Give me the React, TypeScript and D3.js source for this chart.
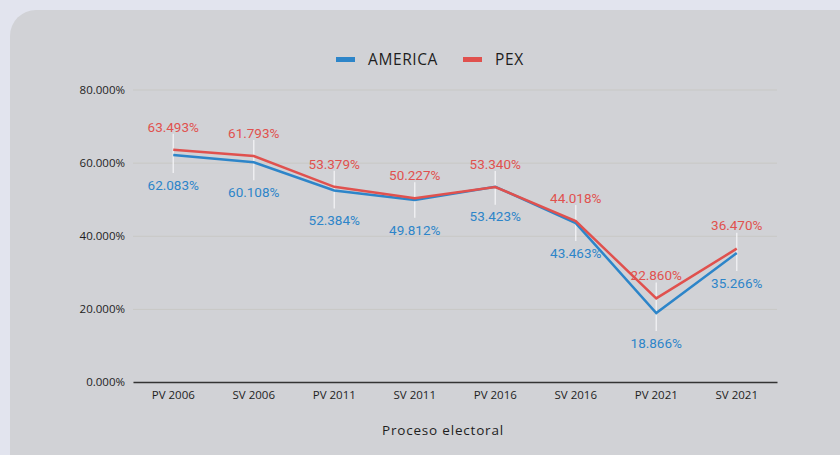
import { useEffect, useRef } from 'react';
import * as d3 from 'd3';

const categories = ['PV 2006', 'SV 2006', 'PV 2011', 'SV 2011', 'PV 2016', 'SV 2016', 'PV 2021', 'SV 2021'];
const america = [62.083, 60.108, 52.384, 49.812, 53.423, 43.463, 18.866, 35.266];
const pex = [63.493, 61.793, 53.379, 50.227, 53.34, 44.018, 22.86, 36.47];
const yTicks = [0, 20, 40, 60, 80];

const WIDTH = 840;
const HEIGHT = 455;
const PLOT = { left: 133, right: 777, top: 89.5, bottom: 382 };
const BLUE = '#2d85c9';
const RED = '#e0514e';
const LABEL_FONT = 'Roboto, sans-serif';
const AXIS_FONT = '"Open Sans", Lato, sans-serif';

export default function App() {
  const svgRef = useRef<SVGSVGElement>(null);

  useEffect(() => {
    if (!svgRef.current) return;
    const svg = d3.select(svgRef.current);
    svg.selectAll('*').remove();

    // page background + panel
    svg.append('rect').attr('width', WIDTH).attr('height', HEIGHT).attr('fill', '#e2e4ee');
    svg.append('rect')
      .attr('x', 10).attr('y', 10)
      .attr('width', WIDTH + 40).attr('height', HEIGHT + 40)
      .attr('rx', 26)
      .attr('fill', '#d1d2d6');

    const x = d3.scaleBand<string>().domain(categories).range([PLOT.left, PLOT.right]);
    const y = d3.scaleLinear().domain([0, 80]).range([PLOT.bottom, PLOT.top]);
    const cx = (c: string) => (x(c) ?? 0) + x.bandwidth() / 2;

    // gridlines + y labels
    const yAxis = d3.axisLeft(y)
      .tickValues(yTicks)
      .tickSize(-(PLOT.right - PLOT.left))
      .tickPadding(8)
      .tickFormat((d: d3.NumberValue) => `${Number(d).toFixed(3)}%`);
    const gy = svg.append('g').attr('transform', `translate(${PLOT.left},0)`).call(yAxis);
    gy.select('.domain').remove();
    gy.selectAll('.tick line').attr('stroke', '#c8c8c5').attr('stroke-width', 1);
    gy.selectAll('.tick text')
      .attr('fill', '#1e1e1e')
      .style('font-family', AXIS_FONT)
      .style('font-size', '11.5px');

    // x axis
    const xAxis = d3.axisBottom(x).tickSize(0).tickPadding(9);
    const gx = svg.append('g').attr('transform', `translate(0,${PLOT.bottom})`).call(xAxis);
    gx.select('.domain').attr('stroke', '#333').attr('stroke-width', 1.5);
    gx.selectAll('.tick text')
      .attr('fill', '#1e1e1e')
      .style('font-family', AXIS_FONT)
      .style('font-size', '11.5px');

    svg.append('text')
      .attr('x', 443).attr('y', 435)
      .attr('text-anchor', 'middle')
      .attr('fill', '#1e1e1e')
      .style('font-family', AXIS_FONT)
      .style('font-size', '13.5px')
      .style('letter-spacing', '0.8px')
      .text('Proceso electoral');

    // leader lines
    const leaders = svg.append('g').attr('stroke', '#f4f4f6').attr('stroke-width', 1.5).attr('opacity', 0.85);
    categories.forEach((c, i) => {
      leaders.append('line')
        .attr('x1', cx(c)).attr('x2', cx(c))
        .attr('y1', y(pex[i]) - 16).attr('y2', y(america[i]) + 18);
    });

    const line = d3.line<number>()
      .x((_d: number, i: number) => cx(categories[i]))
      .y((d: number) => y(d));

    svg.append('path').datum(america)
      .attr('d', line).attr('fill', 'none')
      .attr('stroke', BLUE).attr('stroke-width', 2.5);
    svg.append('path').datum(pex)
      .attr('d', line).attr('fill', 'none')
      .attr('stroke', RED).attr('stroke-width', 2.5);

    // data labels
    const fmt = (v: number) => `${v.toFixed(3)}%`;
    svg.append('g').selectAll('text').data(pex).join('text')
      .attr('x', (_d: number, i: number) => cx(categories[i]))
      .attr('y', (d: number) => y(d) - 23)
      .attr('dy', '0.35em')
      .attr('text-anchor', 'middle')
      .attr('fill', RED)
      .style('font-family', LABEL_FONT)
      .style('font-size', '13.5px')
      .text((d: number) => fmt(d));
    svg.append('g').selectAll('text').data(america).join('text')
      .attr('x', (_d: number, i: number) => cx(categories[i]))
      .attr('y', (d: number) => y(d) + 30)
      .attr('dy', '0.35em')
      .attr('text-anchor', 'middle')
      .attr('fill', BLUE)
      .style('font-family', LABEL_FONT)
      .style('font-size', '13.5px')
      .text((d: number) => fmt(d));

    // legend
    const legend = [
      { name: 'AMERICA', color: BLUE, x: 336 },
      { name: 'PEX', color: RED, x: 463 },
    ];
    const lg = svg.append('g');
    legend.forEach((l) => {
      lg.append('rect').attr('x', l.x).attr('y', 57).attr('width', 19).attr('height', 5).attr('fill', l.color);
      lg.append('text')
        .attr('x', l.x + 32).attr('y', 59.5).attr('dy', '0.35em')
        .attr('fill', '#1e1e1e')
        .style('font-family', AXIS_FONT)
        .style('font-size', '15.5px')
        .style('letter-spacing', '0.6px')
        .text(l.name);
    });
  }, []);

  return (
    <svg
      ref={svgRef}
      width={WIDTH}
      height={HEIGHT}
      style={{ position: 'fixed', left: 0, top: 0, display: 'block' }}
    />
  );
}
